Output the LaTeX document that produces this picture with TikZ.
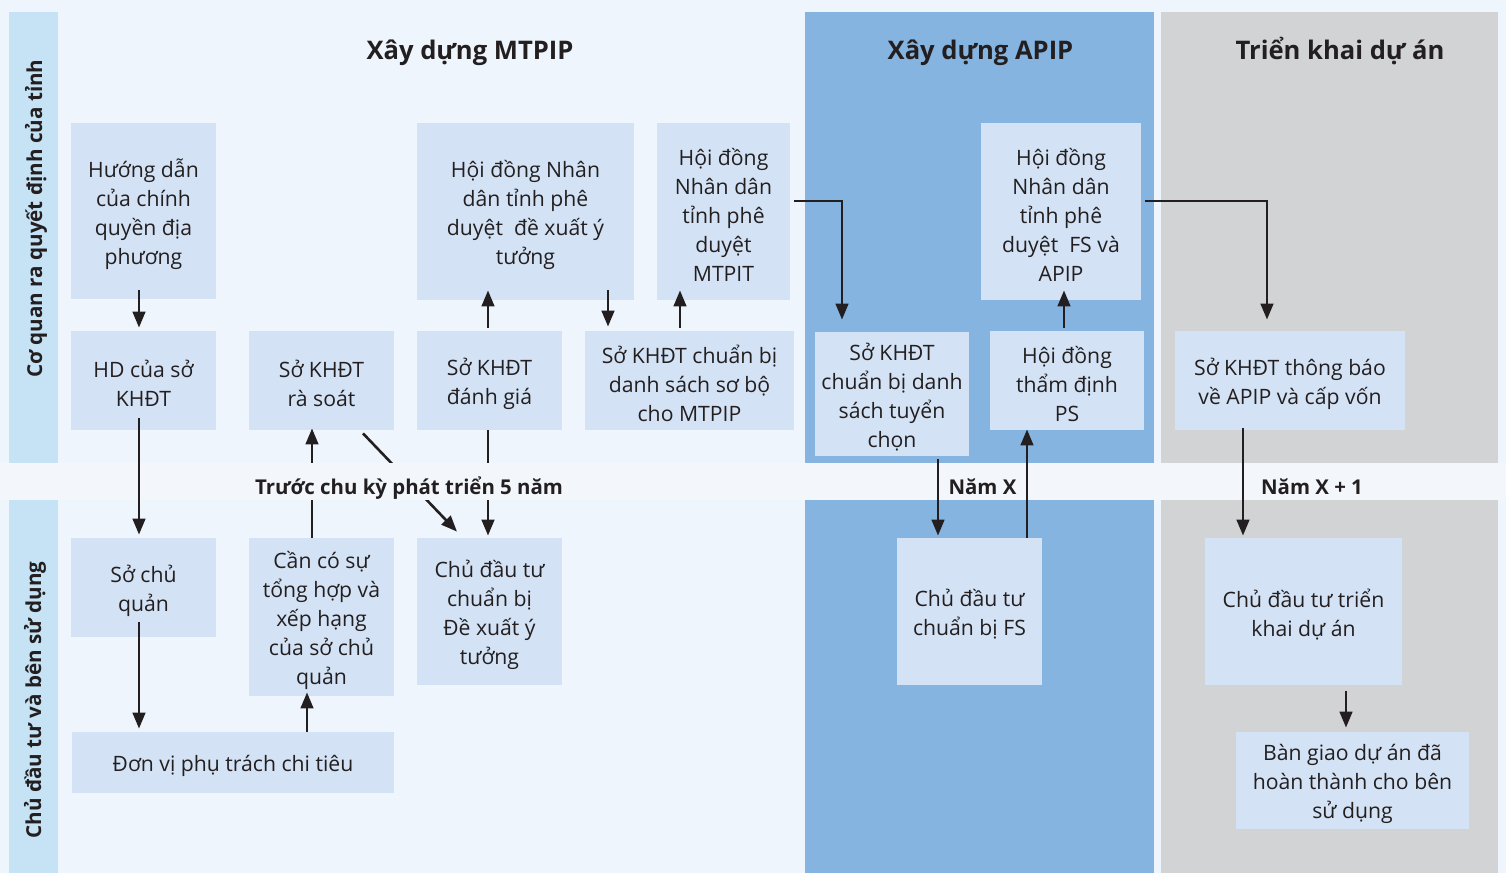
\documentclass[tikz,border=0pt]{standalone}
\usepackage{fontspec}
\setmainfont{Open Sans}
\usetikzlibrary{arrows.meta}
\definecolor{bgc}{HTML}{EEF5FC}
\definecolor{bandc}{HTML}{F3F7FC}
\definecolor{sidec}{HTML}{C6E3F6}
\definecolor{bluec}{HTML}{86B4E0}
\definecolor{grayc}{HTML}{D1D3D5}
\definecolor{boxc}{HTML}{D3E2F4}
\definecolor{txtc}{HTML}{231F20}
\tikzset{
  boxst/.style={fill=boxc, inner sep=0pt},
  boxtxt/.style={inner sep=0pt, align=center, text=txtc,
    font=\fontsize{10.6}{14.5}\selectfont},
  arr/.style={draw=txtc, line width=1.3pt, -{Triangle[length=8pt,width=6.3pt]}},
  titlest/.style={anchor=base, text=txtc, font=\fontsize{12.8}{15}\selectfont\bfseries},
  bandlbl/.style={anchor=base, text=txtc, font=\fontsize{10.2}{12}\selectfont\bfseries},
  sidelbl/.style={anchor=base, rotate=90, text=txtc, font=\fontsize{10.3}{12}\selectfont\bfseries}
}
\newcommand\mybox[6]{\node[boxst, minimum width={(#4-#2)*0.5pt}, minimum height={(#5-#3)*0.5pt}] (#1) at ({(#2+#4)/2},{(#3+#5)/2}) {};
  \node[boxtxt] (#1t) at ([yshift=-1.5pt]#1.center) {#6};}
\begin{document}
\begin{tikzpicture}[x=0.5pt, y=-0.5pt]
\useasboundingbox (0,0) rectangle (1506,873);
% backgrounds
\fill[bgc] (0,0) rectangle (1506,873);
\fill[bandc] (0,463) rectangle (1506,500);
\fill[sidec] (9,12) rectangle (58,463);
\fill[sidec] (9,500) rectangle (58,873);
\fill[bluec] (805,12) rectangle (1154,463);
\fill[bluec] (805,500) rectangle (1154,873);
\fill[grayc] (1161,12) rectangle (1498,463);
\fill[grayc] (1161,500) rectangle (1498,873);
% titles
\node[titlest] (t1) at (470,59) {Xây dựng MTPIP};
\node[titlest] (t2) at (980.5,59) {Xây dựng APIP};
\node[titlest] (t3) at (1340,59) {Triển khai dự án};
\node[sidelbl] (s1) at (42,218.5) {Cơ quan ra quyết định của tỉnh};
\node[sidelbl] (s2) at (41,700) {Chủ đầu tư và bên sử dụng};
% boxes
\mybox{b1}{71}{123}{216}{299}{Hướng dẫn\\của chính\\quyền địa\\phương}
\mybox{b2}{71}{331}{216}{430}{HD của sở\\KHĐT}
\mybox{b3}{249}{331}{394}{430}{Sở KHĐT\\rà soát}
\mybox{b4}{417}{331}{562}{430}{Sở KHĐT\\đánh giá}
\mybox{b5}{585}{331}{794}{430}{Sở KHĐT chuẩn bị\\danh sách sơ bộ\\cho MTPIP}
\mybox{b6}{417}{123}{634}{300}{Hội đồng Nhân\\dân tỉnh phê\\duyệt\ \ đề xuất ý\\tưởng}
\mybox{b7}{657}{123}{790}{300}{Hội đồng\\Nhân dân\\tỉnh phê\\duyệt\\MTPIT}
\mybox{b8}{815}{332}{969}{456}{Sở KHĐT\\chuẩn bị danh\\sách tuyển\\chọn}
\mybox{b9}{990}{331}{1144}{430}{Hội đồng\\thẩm định\\PS}
\mybox{b10}{981}{123}{1141}{300}{Hội đồng\\Nhân dân\\tỉnh phê\\duyệt\ \ FS và\\APIP}
\mybox{b11}{1175}{331}{1405}{430}{Sở KHĐT thông báo\\về APIP và cấp vốn}
\mybox{b12}{71}{538}{216}{637}{Sở chủ\\quản}
\mybox{b13}{249}{538}{394}{696}{Cần có sự\\tổng hợp và\\xếp hạng\\của sở chủ\\quản}
\mybox{b14}{72}{732}{394}{793}{Đơn vị phụ trách chi tiêu}
\mybox{b15}{417}{538}{562}{685}{Chủ đầu tư\\chuẩn bị\\Đề xuất ý\\tưởng}
\mybox{b16}{897}{538}{1042}{685}{Chủ đầu tư\\chuẩn bị FS}
\mybox{b17}{1205}{538}{1402}{685}{Chủ đầu tư triển\\khai dự án}
\mybox{b18}{1236}{732}{1469}{829}{Bàn giao dự án đã\\hoàn thành cho bên\\sử dụng}
% arrows
\draw[arr] ([xshift=-2.25pt,yshift=4.5pt]b1.south) -- ([xshift=-2.25pt,yshift=1.5pt]b2.north);
\draw[arr] ([xshift=-2.25pt,yshift=6pt]b2.south) -- ([xshift=-2.25pt,yshift=1.5pt]b12.north);
\draw[arr] ([xshift=-2.25pt,yshift=7.5pt]b12.south) -- ([xshift=-47pt,yshift=1.5pt]b14.north);
\draw[arr] ([xshift=37pt]b14.north) -- ([xshift=-7.25pt,yshift=2pt]b13.south);
\draw[arr] ([xshift=-4.75pt]b13.north) -- ([xshift=-4.75pt,yshift=1pt]b3.south);
\draw[arr] ([xshift=-0.75pt]b4.south) -- ([xshift=-0.75pt,yshift=1pt]b15.north);
\draw[arr] ([xshift=20.75pt,yshift=-1.5pt]b3.south) -- ([xshift=-16.25pt,yshift=3pt]b15.north);
\draw[arr] ([xshift=-0.75pt,yshift=1.5pt]b4.north) -- ([xshift=-18.75pt,yshift=5pt]b6.south);
\draw[arr] ([xshift=41.25pt,yshift=5pt]b6.south) -- ([xshift=-40.75pt,yshift=2pt]b5.north);
\draw[arr] ([xshift=-4.75pt,yshift=1.5pt]b5.north) -- ([xshift=-21.75pt,yshift=5pt]b7.south);
\draw[arr] ([xshift=2pt,yshift=5.25pt]b7.east) -| ([xshift=-25pt,yshift=6pt]b8.north);
\draw[arr] ([xshift=23pt,yshift=-1.5pt]b8.south) -- ([xshift=-15.75pt,yshift=1pt]b16.north);
\draw[arr] ([xshift=28.75pt]b16.north) -- ([xshift=-20pt,yshift=0.5pt]b9.south);
\draw[arr] ([xshift=-1.5pt,yshift=1.5pt]b9.north) -- ([xshift=1.5pt,yshift=5pt]b10.south);
\draw[arr] ([xshift=2pt,yshift=5.25pt]b10.east) -| ([xshift=-11.5pt,yshift=5.5pt]b11.north);
\draw[arr] ([xshift=-23.5pt,yshift=1pt]b11.south) -- ([xshift=-30.25pt,yshift=1pt]b17.north);
\draw[arr] ([xshift=21.25pt,yshift=-3pt]b17.south) -- ([xshift=-3.25pt,yshift=2pt]b18.north);
% band labels
\fill[bandc] (250,463) rectangle (568,500);
\node[bandlbl] (l1) at (409,494) {Trước chu kỳ phát triển 5 năm};
\node[bandlbl] (l2) at (982.5,494) {Năm X};
\node[bandlbl] (l3) at (1312,494) {Năm X + 1};
\end{tikzpicture}
\end{document}
